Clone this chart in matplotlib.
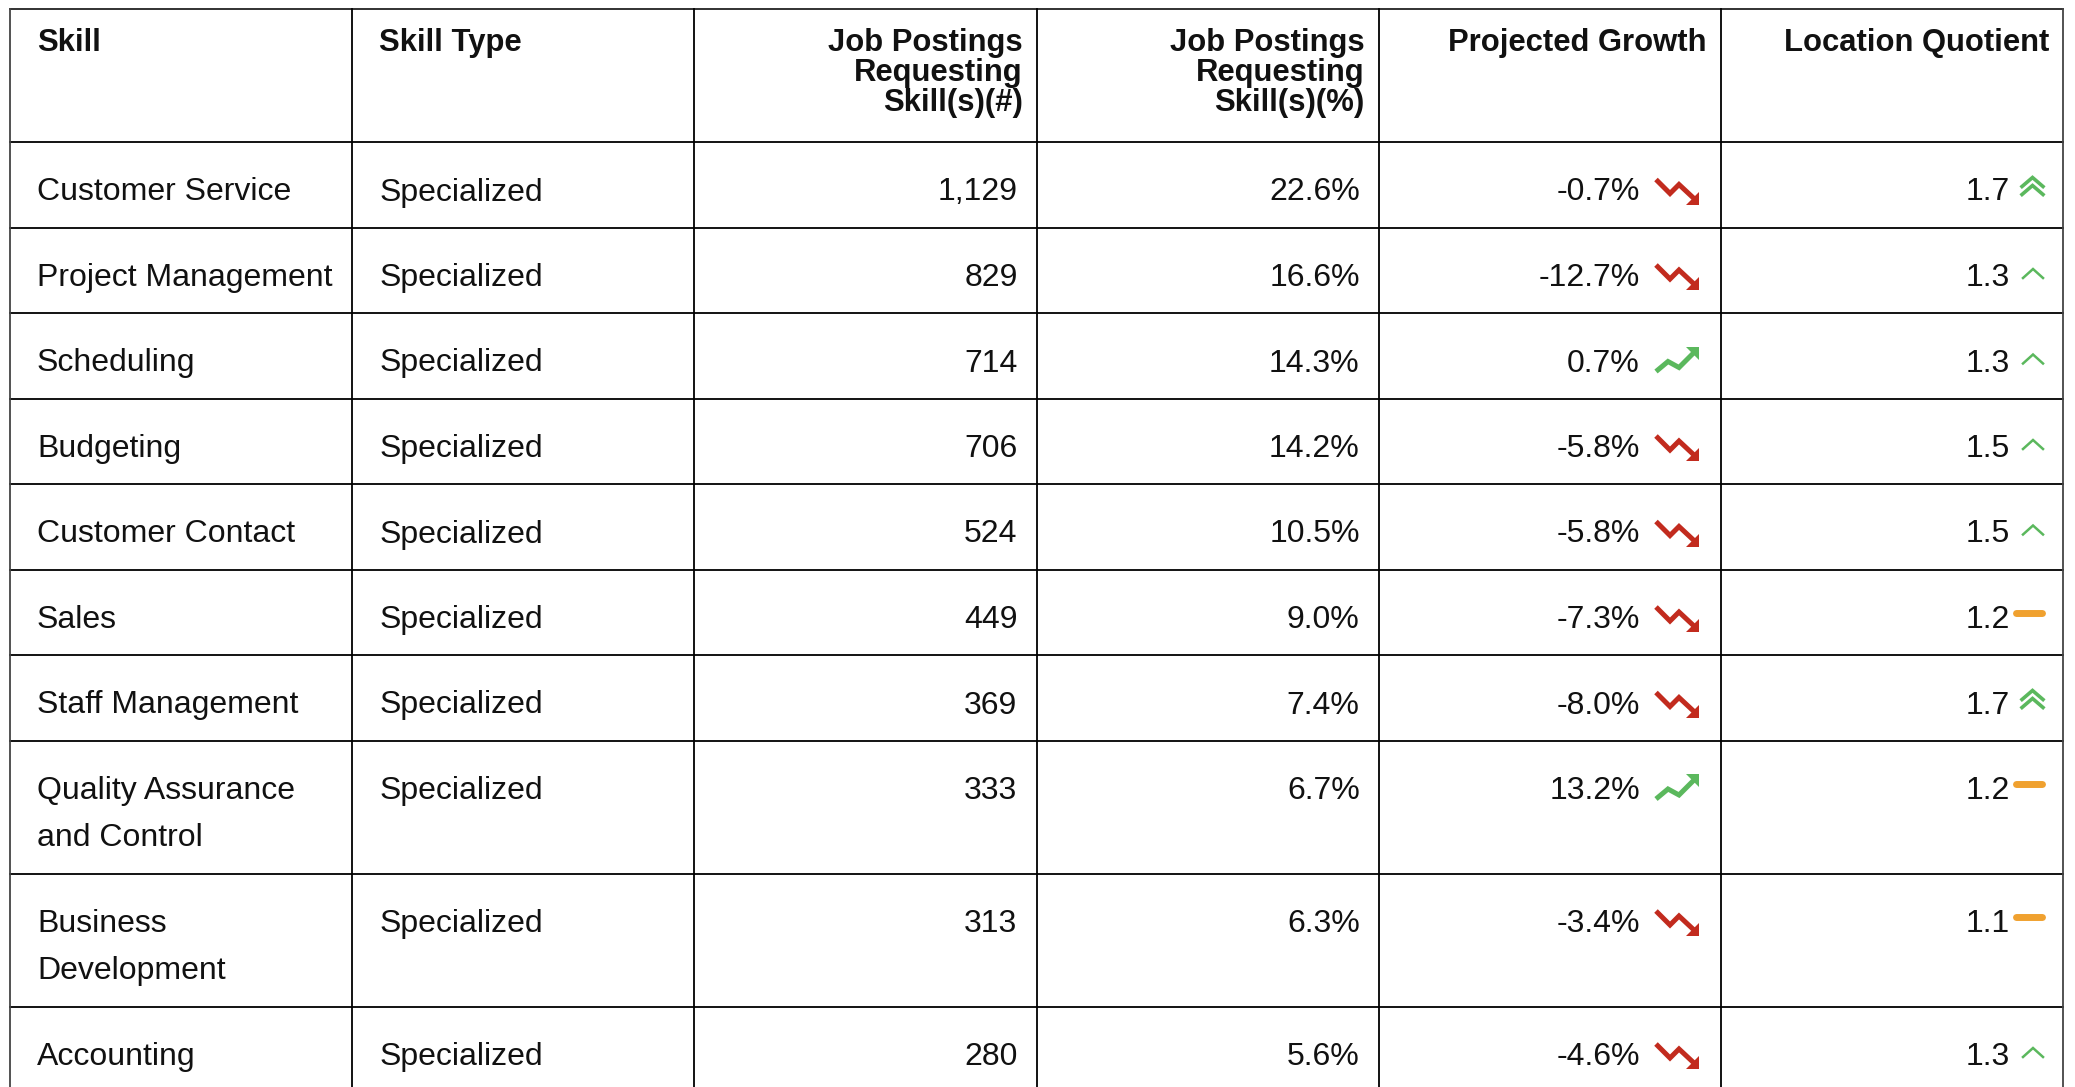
import numpy as np
import matplotlib
matplotlib.use('Agg')
import matplotlib.pyplot as plt
from matplotlib.patches import Polygon

plt.rcParams['font.family'] = ['Liberation Sans', 'DejaVu Sans']

# 데이터
headers = ['Skill', 'Skill Type', 'Job Postings\nRequesting\nSkill(s)(#)',
           'Job Postings\nRequesting\nSkill(s)(%)', 'Projected Growth', 'Location Quotient']
skills = ['Customer Service', 'Project Management', 'Scheduling', 'Budgeting',
          'Customer Contact', 'Sales', 'Staff Management',
          'Quality Assurance\nand Control', 'Business\nDevelopment', 'Accounting']
skill_types = ['Specialized'] * 10
postings = [1129, 829, 714, 706, 524, 449, 369, 333, 313, 280]
postings_pct = [22.6, 16.6, 14.3, 14.2, 10.5, 9.0, 7.4, 6.7, 6.3, 5.6]
growth = [-0.7, -12.7, 0.7, -5.8, -5.8, -7.3, -8.0, 13.2, -3.4, -4.6]
lq = [1.7, 1.3, 1.3, 1.5, 1.5, 1.2, 1.7, 1.2, 1.1, 1.3]

RED = '#c22b1e'
GREEN = '#5bb85d'
ORANGE = '#f0a12f'
TXT = '#111111'

W, H = 2075, 1087
fig = plt.figure(figsize=(W / 100, H / 100), dpi=100)
ax = fig.add_axes([0, 0, 1, 1])
ax.set_xlim(0, W)
ax.set_ylim(H, 0)
ax.axis('off')

# 레이아웃 (픽셀 단위)
col_x = np.linspace(10, 2063, 7)
top, header_bottom = 9, 142
row_h, line_h = 85.5, 47.5

row_tops = [header_bottom]
for s in skills:
    row_tops.append(row_tops[-1] + row_h + line_h * (s.count('\n')))

# 헤더
for c, h in enumerate(headers):
    for i, line in enumerate(h.split('\n')):
        y = 51 + i * 30
        if c < 2:
            ax.text(col_x[c] + 27, y, line, ha='left', va='baseline',
                    fontsize=22.3, fontweight='bold', color=TXT)
        else:
            ax.text(col_x[c + 1] - 14, y, line, ha='right', va='baseline',
                    fontsize=22.3, fontweight='bold', color=TXT)


def trend_icon(cy, up):
    if up:
        pts = [(1656, cy + 11), (1668, cy + 1), (1679, cy + 7), (1694, cy - 8)]
        head = [(1686, cy - 14), (1699, cy - 14), (1699, cy - 1)]
        col = GREEN
    else:
        pts = [(1656, cy - 10), (1670, cy + 4), (1679, cy - 5), (1694, cy + 9)]
        head = [(1699, cy + 2), (1699, cy + 15), (1686, cy + 15)]
        col = RED
    xs, ys = zip(*pts)
    ax.plot(xs, ys, color=col, lw=3.6, solid_joinstyle='miter', solid_capstyle='butt')
    ax.add_patch(Polygon(head, closed=True, color=col, lw=0))


def lq_icon(cy, v):
    if v >= 1.7:
        for dy in (0, 8):
            ax.plot([2022, 2032.5, 2043], [cy - 3 + dy, cy - 12 + dy, cy - 3 + dy],
                    color=GREEN, lw=2.6, solid_joinstyle='miter')
    elif v >= 1.3:
        ax.plot([2023, 2033, 2043], [cy + 3, cy - 6, cy + 3],
                color=GREEN, lw=1.8, solid_joinstyle='miter')
    else:
        ax.plot([2016, 2042], [cy - 4, cy - 4], color=ORANGE, lw=5,
                solid_capstyle='round')


# 본문
for r in range(len(skills)):
    base = row_tops[r] + 58.5
    cy = base - 11
    for i, line in enumerate(skills[r].split('\n')):
        ax.text(col_x[0] + 27, base + i * line_h, line, ha='left', va='baseline',
                fontsize=23, color=TXT)
    ax.text(col_x[1] + 27, base, skill_types[r], ha='left', va='baseline',
            fontsize=23, color=TXT)
    ax.text(col_x[3] - 19, base, f'{postings[r]:,}', ha='right', va='baseline',
            fontsize=23, color=TXT)
    ax.text(col_x[4] - 19, base, f'{postings_pct[r]:.1f}%', ha='right', va='baseline',
            fontsize=23, color=TXT)
    ax.text(1640, base, f'{growth[r]:.1f}%', ha='right', va='baseline',
            fontsize=23, color=TXT)
    trend_icon(cy, growth[r] > 0)
    ax.text(2010, base, f'{lq[r]:.1f}', ha='right', va='baseline',
            fontsize=23, color=TXT)
    lq_icon(cy, lq[r])

# 격자선
bottom = row_tops[-1]
ax.plot([col_x[0], col_x[-1]], [top, top], color='#222222', lw=1.3)
ax.plot([col_x[0], col_x[-1]], [header_bottom, header_bottom], color='black', lw=1.3)
for y in row_tops[1:]:
    ax.plot([col_x[0], col_x[-1]], [y, y], color='black', lw=1.3)
for i, x in enumerate(col_x):
    ax.plot([x, x], [top, bottom], color='#444444' if i in (0, 6) else 'black', lw=1.3)

fig.savefig('out.png', dpi=100)
